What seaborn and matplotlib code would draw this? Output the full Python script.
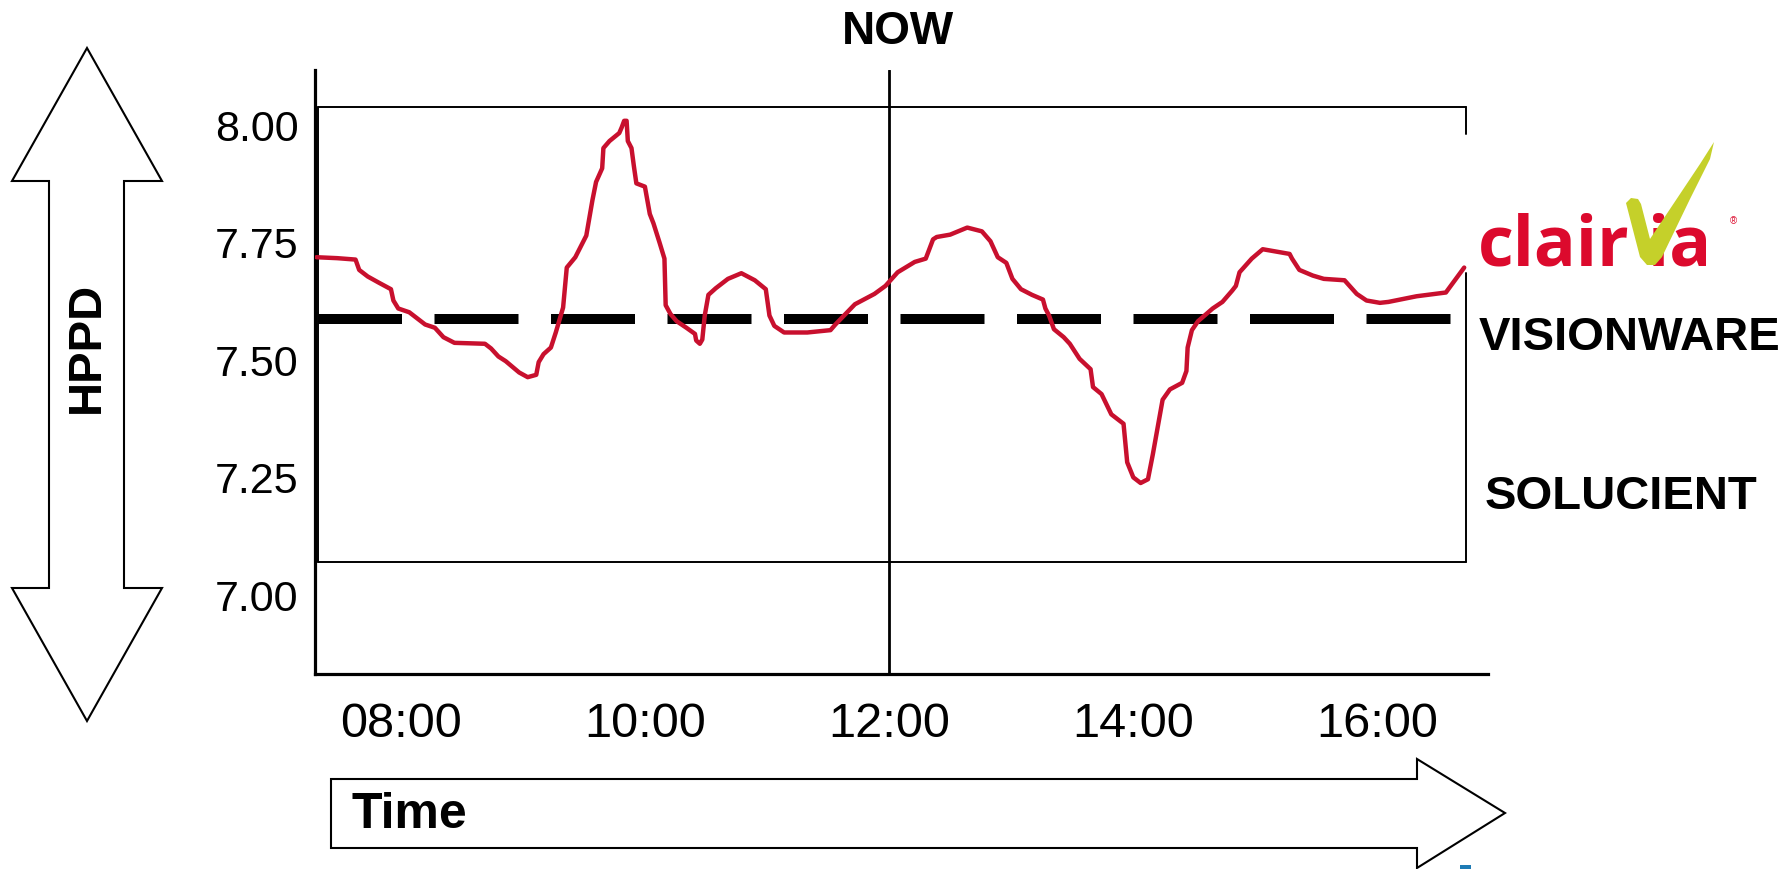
import numpy as np
import pandas as pd
import matplotlib.pyplot as plt
import seaborn as sns
from matplotlib.patches import Polygon, Rectangle

# HPPD over the day (hours as decimals)
hours = [7.31, 7.48, 7.63, 7.66, 7.73, 7.82, 7.92, 7.94, 7.98, 8.07, 8.20, 8.28, 8.35, 8.44,
         8.69, 8.74, 8.80, 8.86, 8.97, 9.04, 9.11, 9.13, 9.17, 9.23, 9.27, 9.33, 9.36, 9.43,
         9.52, 9.57, 9.60, 9.65, 9.66, 9.71, 9.79, 9.81, 9.83, 9.85, 9.86, 9.89, 9.91, 9.93,
         10.00, 10.04, 10.07, 10.12, 10.16, 10.17, 10.21, 10.26, 10.34, 10.41, 10.42, 10.45,
         10.47, 10.49, 10.52, 10.58, 10.68, 10.79, 10.90, 10.99, 11.02, 11.06, 11.14, 11.33,
         11.52, 11.56, 11.72, 11.88, 11.97, 12.07, 12.21, 12.30, 12.36, 12.39, 12.50, 12.64,
         12.76, 12.83, 12.89, 12.96, 13.01, 13.08, 13.17, 13.26, 13.28, 13.31, 13.35, 13.43,
         13.48, 13.56, 13.65, 13.67, 13.74, 13.82, 13.92, 13.95, 14.00, 14.06, 14.12, 14.16,
         14.24, 14.30, 14.40, 14.435, 14.445, 14.48, 14.53, 14.65, 14.73, 14.81, 14.84, 14.87,
         14.97, 15.06, 15.28, 15.30, 15.36, 15.47, 15.56, 15.73, 15.83, 15.91, 16.02, 16.09,
         16.32, 16.56, 16.71]
hppd = [7.717, 7.715, 7.712, 7.690, 7.676, 7.663, 7.649, 7.625, 7.608, 7.600, 7.574, 7.567,
        7.547, 7.535, 7.533, 7.523, 7.506, 7.496, 7.472, 7.462, 7.467, 7.494, 7.511, 7.525,
        7.557, 7.610, 7.695, 7.717, 7.763, 7.838, 7.877, 7.906, 7.949, 7.964, 7.981, 7.993,
        8.007, 8.007, 7.964, 7.949, 7.910, 7.874, 7.867, 7.809, 7.789, 7.748, 7.714, 7.615,
        7.596, 7.581, 7.567, 7.554, 7.540, 7.533, 7.542, 7.593, 7.637, 7.651, 7.671, 7.683,
        7.668, 7.649, 7.593, 7.571, 7.557, 7.557, 7.562, 7.574, 7.617, 7.639, 7.656, 7.685,
        7.707, 7.714, 7.755, 7.760, 7.765, 7.780, 7.772, 7.751, 7.717, 7.705, 7.671, 7.649,
        7.637, 7.627, 7.608, 7.593, 7.564, 7.547, 7.533, 7.501, 7.479, 7.441, 7.426, 7.383,
        7.363, 7.281, 7.249, 7.237, 7.245, 7.298, 7.414, 7.436, 7.450, 7.475, 7.525, 7.562,
        7.581, 7.608, 7.622, 7.646, 7.656, 7.685, 7.714, 7.734, 7.724, 7.714, 7.690, 7.678,
        7.671, 7.668, 7.639, 7.625, 7.620, 7.622, 7.634, 7.642, 7.695]

visionware_level = 7.585
now_hour = 12
x_ticks = [8, 10, 12, 14, 16]
x_labels = ["08:00", "10:00", "12:00", "14:00", "16:00"]
y_ticks = [7.00, 7.25, 7.50, 7.75, 8.00]

# frame drawn around the plot area
box_left, box_right = 7.323, 16.725
box_low, box_high = 7.069, 8.037
gap_low, gap_high = 7.684, 7.979

df = pd.DataFrame({"hour": hours, "hppd": hppd})

W, H = 1785, 870
sns.set_style("white")
plt.rcParams["font.family"] = ["Liberation Sans", "DejaVu Sans"]
plt.rcParams["text.color"] = "black"
plt.rcParams["xtick.color"] = "black"
plt.rcParams["ytick.color"] = "black"

fig = plt.figure(figsize=(W / 100, H / 100), dpi=100)
ax = fig.add_axes([315 / W, 1 - 675 / H, (1488 - 315) / W, (675 - 71) / H])


def px(x, y):
    return (x / W, 1 - y / H)


# box
ax.plot([box_left, box_right], [box_high, box_high], color="black", lw=1.4)
ax.plot([box_left, box_right], [box_low, box_low], color="black", lw=1.4)
ax.plot([box_left, box_left], [box_low, box_high], color="black", lw=1.4)
ax.plot([box_right, box_right], [box_low, gap_low], color="black", lw=1.4)
ax.plot([box_right, box_right], [gap_high, box_high], color="black", lw=1.4)

ax.axvline(now_hour, color="black", lw=2)
ax.plot([box_left, 16.667], [visionware_level] * 2, color="black", lw=7.2,
        linestyle=(0, (8.4, 3.25)), solid_capstyle="butt")

sns.lineplot(data=df, x="hour", y="hppd", estimator=None, sort=False,
             color="#C8102E", lw=3.2, ax=ax, zorder=5)

ax.set_xlim(7.298, 16.905)
ax.set_ylim(6.831, 8.115)
ax.set_xticks(x_ticks)
ax.set_xticklabels(x_labels, fontsize=35)
ax.set_yticks(y_ticks)
ax.set_yticklabels([f"{v:.2f}" for v in y_ticks], fontsize=31)
ax.tick_params(axis="x", direction="inout", length=21, width=1.5, pad=9)
ax.tick_params(axis="y", length=0, pad=12)
ax.set_xlabel("")
ax.set_ylabel("")
sns.despine(ax=ax)
for s in ["left", "bottom"]:
    ax.spines[s].set_linewidth(2.3)
    ax.spines[s].set_color("black")

# text labels
fig.text(*px(898, 32), "NOW", fontsize=33, fontweight="bold", ha="center", va="center")
fig.text(*px(1479, 338), "VISIONWARE", fontsize=34, fontweight="bold", ha="left", va="center")
fig.text(*px(1485, 497), "SOLUCIENT", fontsize=34, fontweight="bold", ha="left", va="center")

# HPPD double arrow
hppd_arrow = [(87, 49), (162, 182), (124, 182), (124, 589), (162, 589), (87, 722),
              (12, 589), (49, 589), (49, 182), (12, 182)]
fig.add_artist(Polygon([px(*p) for p in hppd_arrow], closed=True, facecolor="white",
                       edgecolor="black", lw=1.5, transform=fig.transFigure))
fig.text(*px(87, 347), "HPPD", fontsize=34, fontweight="bold", rotation=90,
         ha="center", va="center")

# Time arrow
time_arrow = [(331, 780), (1417, 780), (1417, 760), (1505, 814), (1417, 869),
              (1417, 849), (331, 849)]
fig.add_artist(Polygon([px(*p) for p in time_arrow], closed=True, facecolor="white",
                       edgecolor="black", lw=1.5, transform=fig.transFigure))
fig.text(*px(351, 815), "Time", fontsize=36, fontweight="bold", ha="left", va="center")

# clairvia logo
logo_red = "#DC0A2D"
fig.text(*px(1478, 265), "clair", fontsize=50, fontweight="bold", color=logo_red,
         family=["Open Sans", "DejaVu Sans"], ha="left", va="baseline")
fig.text(*px(1648, 265), "ia", fontsize=50, fontweight="bold", color=logo_red,
         family=["Open Sans", "DejaVu Sans"], ha="left", va="baseline")
check = [(1626, 204), (1631, 199), (1638, 200), (1641, 205), (1650, 240), (1700, 165),
         (1714, 143), (1710, 160), (1690, 200), (1662, 258), (1655, 266), (1647, 266),
         (1640, 258)]
fig.add_artist(Polygon([px(*p) for p in check], closed=True, facecolor="#C5D02A",
                       edgecolor="none", transform=fig.transFigure, zorder=10))
fig.text(*px(1733, 221), "®", fontsize=7, color=logo_red, ha="center", va="center")

fig.add_artist(Rectangle(px(1460, 870), 11 / W, 4 / H, facecolor="#1E7BB5",
                         edgecolor="none", transform=fig.transFigure))

fig.savefig("out.png", dpi=100)
